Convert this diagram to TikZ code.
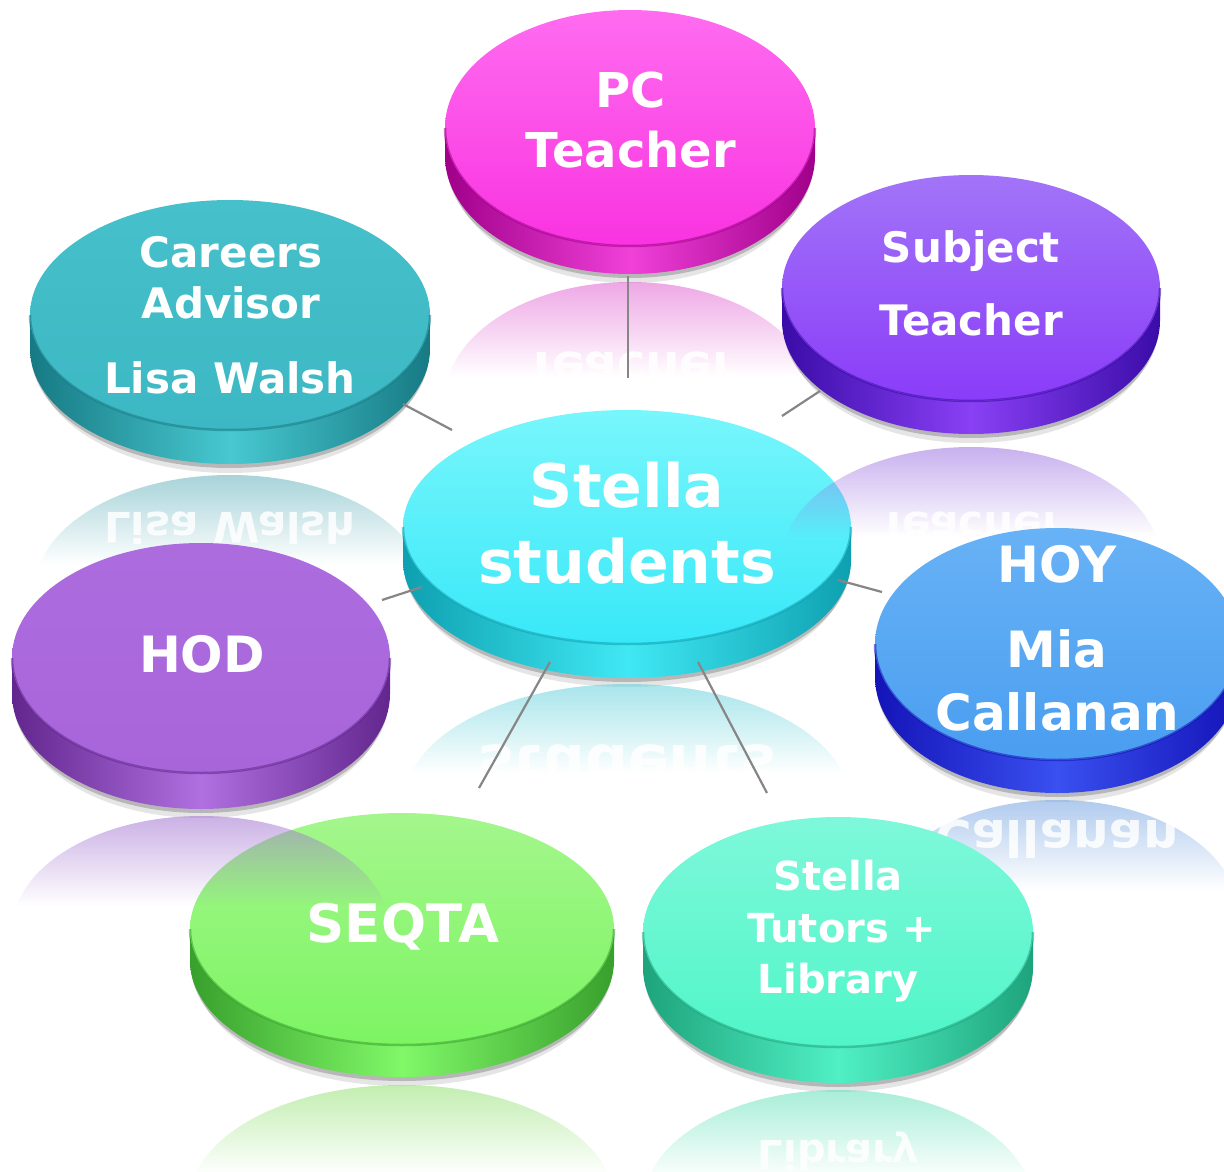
\documentclass[tikz,border=0pt]{standalone}
\usepackage{fontspec}
\setmainfont{DejaVu Sans}
\usetikzlibrary{fadings}
\tikzfading[name=reflfade, top color=transparent!45, bottom color=transparent!100]

\definecolor{pcM}{HTML}{F933E0}\definecolor{pcL}{HTML}{FF6CF0}\definecolor{pcD}{HTML}{A0008A}\definecolor{pcS}{HTML}{F040D8}\definecolor{pcR}{HTML}{E060D0}
\definecolor{sbM}{HTML}{8A3CF8}\definecolor{sbL}{HTML}{A274F8}\definecolor{sbD}{HTML}{3A0CA8}\definecolor{sbS}{HTML}{8A40F5}\definecolor{sbR}{HTML}{9A70E0}
\definecolor{caM}{HTML}{3CB8C4}\definecolor{caL}{HTML}{46C0CA}\definecolor{caD}{HTML}{167A84}\definecolor{caS}{HTML}{48C8D0}\definecolor{caR}{HTML}{60B0BA}
\definecolor{ceM}{HTML}{38E8F8}\definecolor{ceL}{HTML}{78F6FC}\definecolor{ceD}{HTML}{0EA0B0}\definecolor{ceS}{HTML}{40E8F4}\definecolor{ceR}{HTML}{60D0DA}
\definecolor{hyM}{HTML}{4A9EF0}\definecolor{hyL}{HTML}{68B2F6}\definecolor{hyD}{HTML}{1414B8}\definecolor{hyS}{HTML}{3A50F0}\definecolor{hyR}{HTML}{70A0E0}
\definecolor{hdM}{HTML}{A865DA}\definecolor{hdL}{HTML}{AC6CDE}\definecolor{hdD}{HTML}{62268E}\definecolor{hdS}{HTML}{B070E0}\definecolor{hdR}{HTML}{A070D0}
\definecolor{sqM}{HTML}{7CF562}\definecolor{sqL}{HTML}{A4F68C}\definecolor{sqD}{HTML}{38A02C}\definecolor{sqS}{HTML}{80F868}\definecolor{sqR}{HTML}{90E070}
\definecolor{tuM}{HTML}{50F5C8}\definecolor{tuL}{HTML}{7EF8DA}\definecolor{tuD}{HTML}{1EA47C}\definecolor{tuS}{HTML}{50F0C4}\definecolor{tuR}{HTML}{60E0B8}

\tikzset{
  lbl/.style={anchor=base, text=white, inner sep=0pt},
  mirr/.style={anchor=base, text=white, inner sep=0pt, yscale=-1, opacity=.85},
  conn/.style={draw=gray!95, line width=2.2pt},
}

% cx, cy, rx, ry, thickness, main, light, sidedark, sidelight
\newcommand\disc[9]{%
  \fill[black,opacity=.10] ({#1},{-(#2+#5+9)}) ellipse [x radius={#3-5}, y radius={#4}];
  \fill[black,opacity=.20] ({#1},{-(#2+#5+4)}) ellipse [x radius={#3-1}, y radius={#4}];
  \shade[left color=#8, right color=#8, middle color=#9]
    ({#1-#3},{-(#2)}) -- ({#1-#3},{-(#2+#5)})
    arc[start angle=180, end angle=360, x radius=#3, y radius=#4]
    -- ({#1+#3},{-(#2)})
    arc[start angle=0, end angle=-180, x radius=#3, y radius=#4] -- cycle;
  \shade[top color=#7, bottom color=#6] ({#1},{-(#2)}) ellipse [x radius=#3, y radius=#4];
  \draw[#8, line width=2.5pt, opacity=.55] ({#1-#3},{-(#2)}) arc[start angle=180, end angle=360, x radius=#3, y radius=#4];
}
% cx, top, rx, ry, color, fade height
\newcommand\refl[6]{%
  \begin{scope}
    \clip ({#1},{-(#2+#4)}) ellipse [x radius=#3, y radius=#4];
    \fill[#5, path fading=reflfade] ({#1-#3},{-(#2)}) rectangle ({#1+#3},{-(#2+#6)});
  \end{scope}
}
% name, x, baseline y, size, text
\newcommand\lbl[5]{%
  \node[lbl, font=\bfseries\fontsize{#4}{#4}\selectfont] (#1) at ({#2},{-(#3)}) {#5};
}
\newcommand\mlbl[5]{%
  \node[mirr, font=\bfseries\fontsize{#4}{#4}\selectfont] (#1) at ({#2},{-(#3)}) {#5};
}

\begin{document}
\begin{tikzpicture}[x=1pt,y=1pt]
\useasboundingbox (0,0) rectangle (1224,-1172);
\clip (0,0) rectangle (1224,-1172);

% PC Teacher
\disc{630}{128}{185}{118}{28}{pcM}{pcL}{pcD}{pcS}
\refl{630}{282}{185}{118}{pcR}{95}
\mlbl{pcm}{631}{352}{48}{Teacher}
\lbl{pc1}{631}{107}{48}{PC}
\lbl{pc2}{631}{167}{48}{Teacher}

% Careers Advisor
\disc{230}{315}{200}{115}{34}{caM}{caL}{caD}{caS}
\refl{230}{475}{195}{115}{caR}{90}
\mlbl{cam}{230}{512}{42}{Lisa Walsh}
\lbl{ca1}{231}{267}{42}{Careers}
\lbl{ca2}{231}{318}{42}{Advisor}
\lbl{ca3}{230}{393}{42}{Lisa Walsh}

% Stella students (centre)
\disc{627}{527}{224}{117}{34}{ceM}{ceL}{ceD}{ceS}
\refl{627}{684}{222}{117}{ceR}{90}
\mlbl{cem}{627}{745}{60}{students}
\lbl{ce1}{627}{507}{60}{Stella}
\lbl{ce2}{627}{583}{60}{students}

% Subject Teacher
\disc{971}{288}{189}{113}{33}{sbM}{sbL}{sbD}{sbS}
\refl{971}{447}{189}{113}{sbR}{90}
\mlbl{sbm}{971}{512}{42}{Teacher}
\lbl{sb1}{971}{262}{42}{Subject}
\lbl{sb2}{971}{335}{42}{Teacher}

% HOY
\disc{1057}{644}{182}{116}{33}{hyM}{hyL}{hyD}{hyS}
\refl{1057}{800}{182}{116}{hyR}{90}
\mlbl{hym}{1057}{820}{50}{Callanan}
\lbl{hy1}{1057}{582}{50}{HOY}
\lbl{hy2}{1057}{667}{50}{Mia}
\lbl{hy3}{1057}{730}{50}{Callanan}

% Stella Tutors + Library
\disc{838}{932}{195}{115}{36}{tuM}{tuL}{tuD}{tuS}
\refl{838}{1090}{195}{115}{tuR}{90}
\mlbl{tum}{838}{1140}{40}{Library}
\lbl{tu1}{838}{890}{40}{Stella}
\lbl{tu2}{842}{942}{40}{Tutors +}
\lbl{tu3}{838}{993}{40}{Library}

% SEQTA
\disc{402}{929}{212}{116}{32}{sqM}{sqL}{sqD}{sqS}
\refl{402}{1085}{212}{116}{sqR}{90}
\lbl{sq1}{403}{942}{53}{SEQTA}

% HOD
\disc{201}{658}{189}{115}{36}{hdM}{hdL}{hdD}{hdS}
\refl{201}{816}{189}{115}{hdR}{90}
\lbl{hd1}{202}{672}{50}{HOD}

% connectors
\coordinate (pcE) at (628,-276);  \coordinate (pcC) at (628,-378);
\coordinate (sbE) at (820,-391);  \coordinate (sbC) at (782,-416);
\coordinate (caE) at (403,-404);  \coordinate (caC) at (452,-430);
\coordinate (hyE) at (882,-592);  \coordinate (hyC) at (838,-580);
\coordinate (hdE) at (382,-600);  \coordinate (hdC) at (422,-587);
\coordinate (sqE) at (479,-788);  \coordinate (sqC) at (550,-662);
\coordinate (tuE) at (767,-793);  \coordinate (tuC) at (698,-662);
\draw[conn] (pcE) -- (pcC);
\draw[conn] (sbE) -- (sbC);
\draw[conn] (caE) -- (caC);
\draw[conn] (hyE) -- (hyC);
\draw[conn] (hdE) -- (hdC);
\draw[conn] (sqE) -- (sqC);
\draw[conn] (tuE) -- (tuC);
\end{tikzpicture}
\end{document}
